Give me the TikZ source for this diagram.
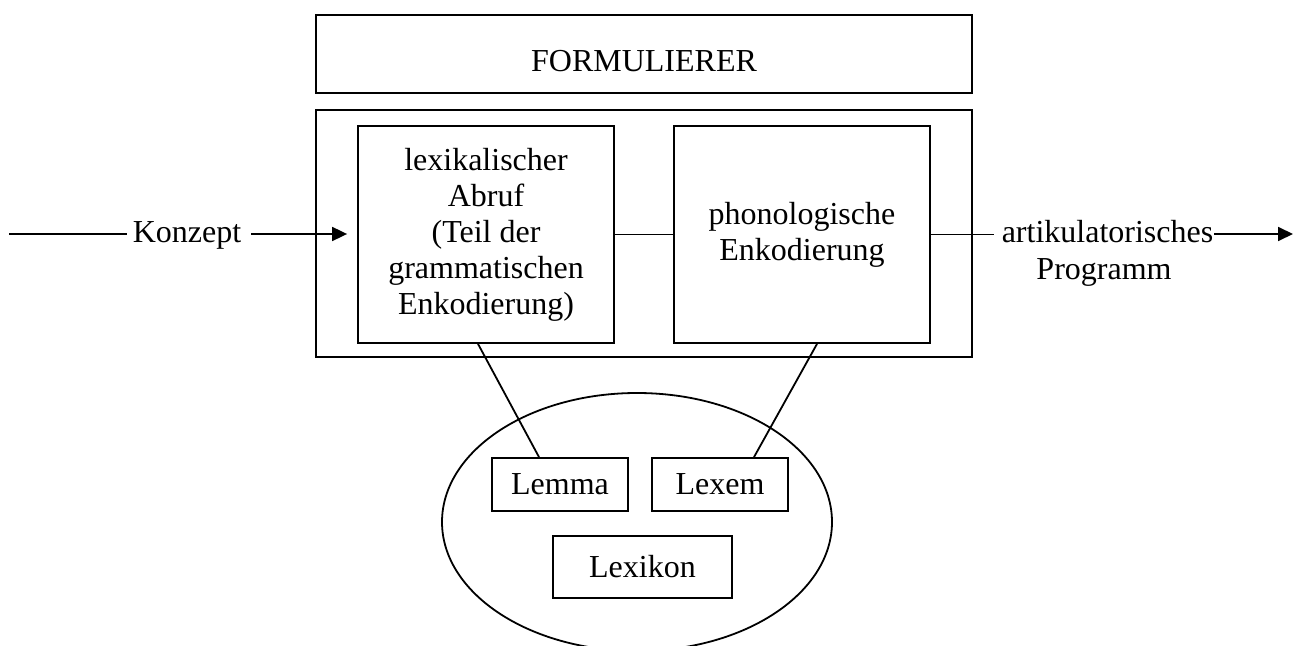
\documentclass[tikz,border=0pt]{standalone}
\usepackage{fontspec}
\setmainfont{Liberation Serif}
\usetikzlibrary{arrows.meta,shapes.geometric}
\begin{document}
\begin{tikzpicture}[x=0.5pt,y=-0.5pt,line width=0.9pt,
  every node/.style={font=\fontsize{16}{18}\selectfont},
  box/.style={draw,inner sep=0pt,align=center},
  lbl/.style={inner sep=0pt,anchor=base},
  arr/.style={-{Triangle[length=7.5pt,width=7pt]}}]
\useasboundingbox (0,0) rectangle (1294,646);
% top box
\node[box,minimum width=328pt,minimum height=39pt] (form) at (644,54) {};
\node[lbl] (formtxt) at (644,72) {FORMULIERER};
% outer box
\node[box,minimum width=328pt,minimum height=123.5pt] (outer) at (644,233.5) {};
% inner boxes
\node[box,minimum width=128pt,minimum height=108.5pt] (lexbox) at (486,234.5)
  {lexikalischer\\Abruf\\(Teil der\\grammatischen\\Enkodierung)};
\node[box,minimum width=128pt,minimum height=108.5pt] (phonbox) at (802,234.5)
  {phonologische\\Enkodierung};
\draw (lexbox) -- (phonbox);
% input
\coordinate (kin) at (9,234);
\node[lbl] (konz) at (187,243) {Konzept};
\draw (kin) -- ([xshift=-2.5pt]kin -| konz.west);
\draw[arr,shorten >=5pt] ([xshift=4.5pt]kin -| konz.east) -- (kin -| lexbox.west);
% output
\coordinate (kout) at (1293,234);
\node[lbl] (art) at (1107.5,243) {artikulatorisches};
\node[lbl] (prog) at (1104,280) {Programm};
\draw (phonbox.east) -- ([xshift=-3.5pt]phonbox.east -| art.west);
\draw[arr] (kin -| art.east) -- (kout);
% lexicon
\node[draw,ellipse,minimum width=195pt,minimum height=129pt,inner sep=0pt] (lexikon) at (637,522) {};
\node[box,minimum width=68pt,minimum height=26.5pt] (lemma) at (560,484.5) {Lemma};
\node[box,minimum width=68pt,minimum height=26.5pt] (lexem) at (720,484.5) {Lexem};
\node[box,minimum width=89.5pt,minimum height=31pt] (lexbox2) at (642.5,567) {Lexikon};
\draw ([xshift=-4pt]lexbox.south) -- ([xshift=-10.5pt]lemma.north);
\draw ([xshift=7.5pt]phonbox.south) -- ([xshift=17pt]lexem.north);
\end{tikzpicture}
\end{document}
